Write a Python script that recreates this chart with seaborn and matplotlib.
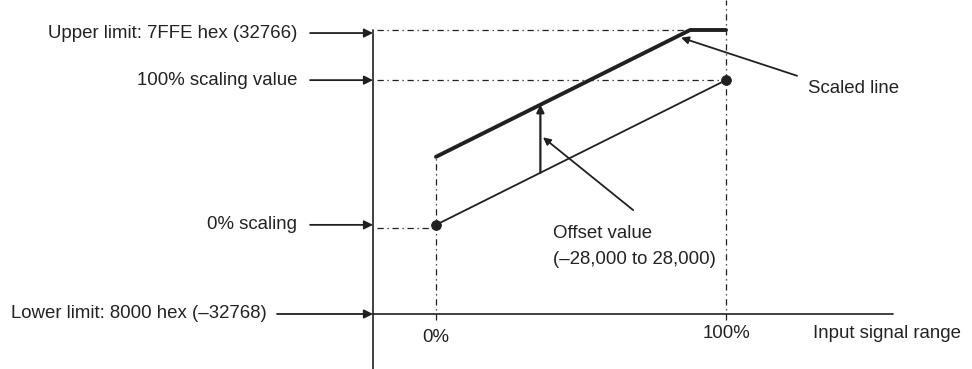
import numpy as np
import pandas as pd
import seaborn as sns
import matplotlib.pyplot as plt

# values
upper_limit = 32766
lower_limit = -32768
scale_100 = 21200
scale_0 = -12200
offset = 15700
offset_at = 36          # % position of the offset arrow
input_pct = [0, 100]
tick_labels = ['0%', '100%']
level_labels = ['Upper limit: 7FFE hex (32766)', '100% scaling value',
                '0% scaling', 'Lower limit: 8000 hex (\u201332768)']
level_values = [upper_limit, scale_100, scale_0, lower_limit]

ink = '#231f20'
txt = '#222222'
fs = 13.4
sns.set_style('white')
plt.rcParams['font.family'] = ['Liberation Sans', 'DejaVu Sans']

fig = plt.figure(figsize=(9.72, 3.69), dpi=100)
ax = fig.add_axes([0, 0, 1, 1])
ax.set_xlim(-150.3, 184.8)
ax.set_ylim(-45460, 39690)
ax.axis('off')

axis_x = -21.7
axis_end = 157.6

# original scaling line and its end points
orig = pd.DataFrame({'x': input_pct, 'y': [scale_0, scale_100]})
sns.lineplot(data=orig, x='x', y='y', color=ink, lw=1.3, ax=ax)
sns.scatterplot(data=orig, x='x', y='y', color=ink, s=50, edgecolor=ink, zorder=5, ax=ax)

# scaled line (offset added, clipped at the upper limit)
slope = (scale_100 - scale_0) / 100
kink = (upper_limit - (scale_0 + offset)) / slope
scaled = pd.DataFrame({'x': [0, kink, 100],
                       'y': [scale_0 + offset, upper_limit, upper_limit]})
sns.lineplot(data=scaled, x='x', y='y', color=ink, lw=2.8, ax=ax, sort=False)

# axes of the diagram
ax.plot([axis_x, axis_x], [-46000, upper_limit], color=ink, lw=1.2)
ax.plot([axis_x, axis_end], [lower_limit, lower_limit], color=ink, lw=1.2)

# dash-dot guides
dd = dict(color=ink, lw=0.9, ls=(0, (5, 3, 1, 3)))
ax.plot([axis_x + 1.5, kink], [upper_limit, upper_limit], **dd)
ax.plot([axis_x + 1.5, 100], [scale_100, scale_100], **dd)
ax.plot([axis_x + 1.5, 0], [scale_0 - 700, scale_0 - 700], **dd)
ax.plot([0, 0], [-34200, scale_0 + offset], **dd)
ax.plot([100, 100], [-34200, 39690], **dd)

# level labels with arrows onto the vertical axis
for lab, val in zip(level_labels, level_values):
    if val == lower_limit:
        tx, ax0 = -58.3, -54.8
    else:
        tx, ax0 = -47.9, -43.4
    yv = val - 700 if val == upper_limit else val
    ax.text(tx, yv, lab, ha='right', va='center', fontsize=fs, color=txt)
    ax.annotate('', xy=(axis_x, yv), xytext=(ax0, yv),
                arrowprops=dict(arrowstyle='-|>', color=ink, lw=1.3,
                                mutation_scale=13, shrinkA=0, shrinkB=0))

# input signal range ticks
for p, lab in zip(input_pct, tick_labels):
    ax.text(p, -37300 - 1000 * (p == 0), lab, ha='center', va='center',
            fontsize=fs, color=txt)
ax.text(130, -37300, 'Input signal range', ha='left', va='center',
        fontsize=fs, color=txt)

# offset arrow
y_lo = scale_0 + slope * offset_at
ax.annotate('', xy=(offset_at, y_lo + offset), xytext=(offset_at, y_lo),
            arrowprops=dict(arrowstyle='-|>', color=ink, lw=1.6,
                            mutation_scale=11, shrinkA=0, shrinkB=0))

# callouts
ax.annotate('', xy=(84.5, 31000), xytext=(124.5, 22200),
            arrowprops=dict(arrowstyle='-|>', color=ink, lw=1.3,
                            mutation_scale=11, shrinkA=0, shrinkB=0))
ax.text(128.3, 19300, 'Scaled line', ha='left', va='center',
        fontsize=fs, color=txt)
ax.annotate('', xy=(36.9, 8000), xytext=(68, -8800),
            arrowprops=dict(arrowstyle='-|>', color=ink, lw=1.3,
                            mutation_scale=11, shrinkA=0, shrinkB=0))
ax.text(40.3, -14100, 'Offset value', ha='left', va='center',
        fontsize=fs, color=txt)
ax.text(40.3, -20100, '(\u201328,000 to 28,000)', ha='left', va='center',
        fontsize=fs, color=txt)

fig.savefig('out.png', dpi=100)
